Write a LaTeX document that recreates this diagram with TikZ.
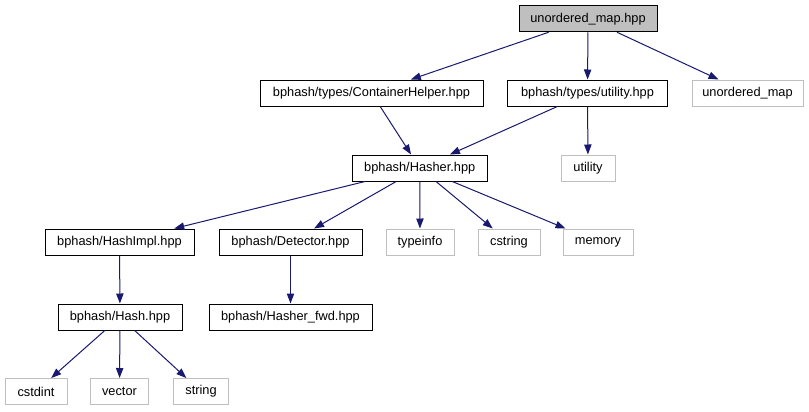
\documentclass[tikz,border=0pt]{standalone}
\usepackage{fontspec}
\setmainfont{Liberation Sans}
\usetikzlibrary{arrows.meta}
\definecolor{edgeblue}{HTML}{191970}
\definecolor{lightgr}{HTML}{BFBFBF}
\begin{document}
\begin{tikzpicture}[x=0.75pt,y=-0.75pt,
  base/.style={rectangle,inner sep=0pt,minimum height=19.5pt,line width=0.75pt,font=\fontsize{9.6pt}{11pt}\selectfont},
  filebox/.style={base,draw=black},
  mainbox/.style={base,draw=black,fill=lightgr},
  sysbox/.style={base,draw=lightgr},
  dep/.style={draw=edgeblue,line width=0.75pt,-{Triangle[length=7.5pt,width=5.5pt]}}]
\useasboundingbox (0,0) rectangle (809,411);
\fill[white] (0,0) rectangle (809,411);
% row 1
\node[mainbox,minimum width=103.5pt] (A) at (588,18.75) {unordered\_map.hpp};
% row 2
\node[filebox,minimum width=167.25pt] (B) at (371.5,93) {bphash/types/ContainerHelper.hpp};
\node[filebox,minimum width=120pt] (C) at (587.5,93) {bphash/types/utility.hpp};
\node[sysbox,minimum width=83.25pt] (D) at (747.5,93) {unordered\_map};
% row 3
\node[filebox,minimum width=101.6pt] (F) at (419.75,168) {bphash/Hasher.hpp};
\node[sysbox,minimum width=40.5pt] (E) at (588,168) {utility};
% row 4
\node[filebox,minimum width=111.75pt] (G) at (119.5,242) {bphash/HashImpl.hpp};
\node[filebox,minimum width=107.25pt] (H) at (290.5,242) {bphash/Detector.hpp};
\node[sysbox,minimum width=51pt] (I) at (420,242) {typeinfo};
\node[sysbox,minimum width=46.5pt] (J) at (509,242) {cstring};
\node[sysbox,minimum width=52.5pt] (K) at (598,242) {memory};
% row 5
\node[filebox,minimum width=93pt] (L) at (120,317) {bphash/Hash.hpp};
\node[filebox,minimum width=122.25pt] (M) at (290.5,317) {bphash/Hasher\_fwd.hpp};
% row 6
\node[sysbox,minimum width=46.5pt] (N) at (36,391.5) {cstdint};
\node[sysbox,minimum width=43.5pt] (O) at (119.5,391.5) {vector};
\node[sysbox,minimum width=41.25pt] (P) at (201,391.5) {string};
% edges
\draw[dep] (A) -- (B);
\draw[dep] (A) -- (C);
\draw[dep] (A) -- (D);
\draw[dep] (B) -- (F);
\draw[dep] (C) -- (F);
\draw[dep] (C) -- (E);
\draw[dep] (F) -- (G);
\draw[dep] (F) -- (H);
\draw[dep] (F) -- (I);
\draw[dep] (F) -- (J);
\draw[dep] (F) -- (K);
\draw[dep] (G) -- (L);
\draw[dep] (H) -- (M);
\draw[dep] (L) -- (N);
\draw[dep] (L) -- (O);
\draw[dep] (L) -- (P);
\end{tikzpicture}
\end{document}
